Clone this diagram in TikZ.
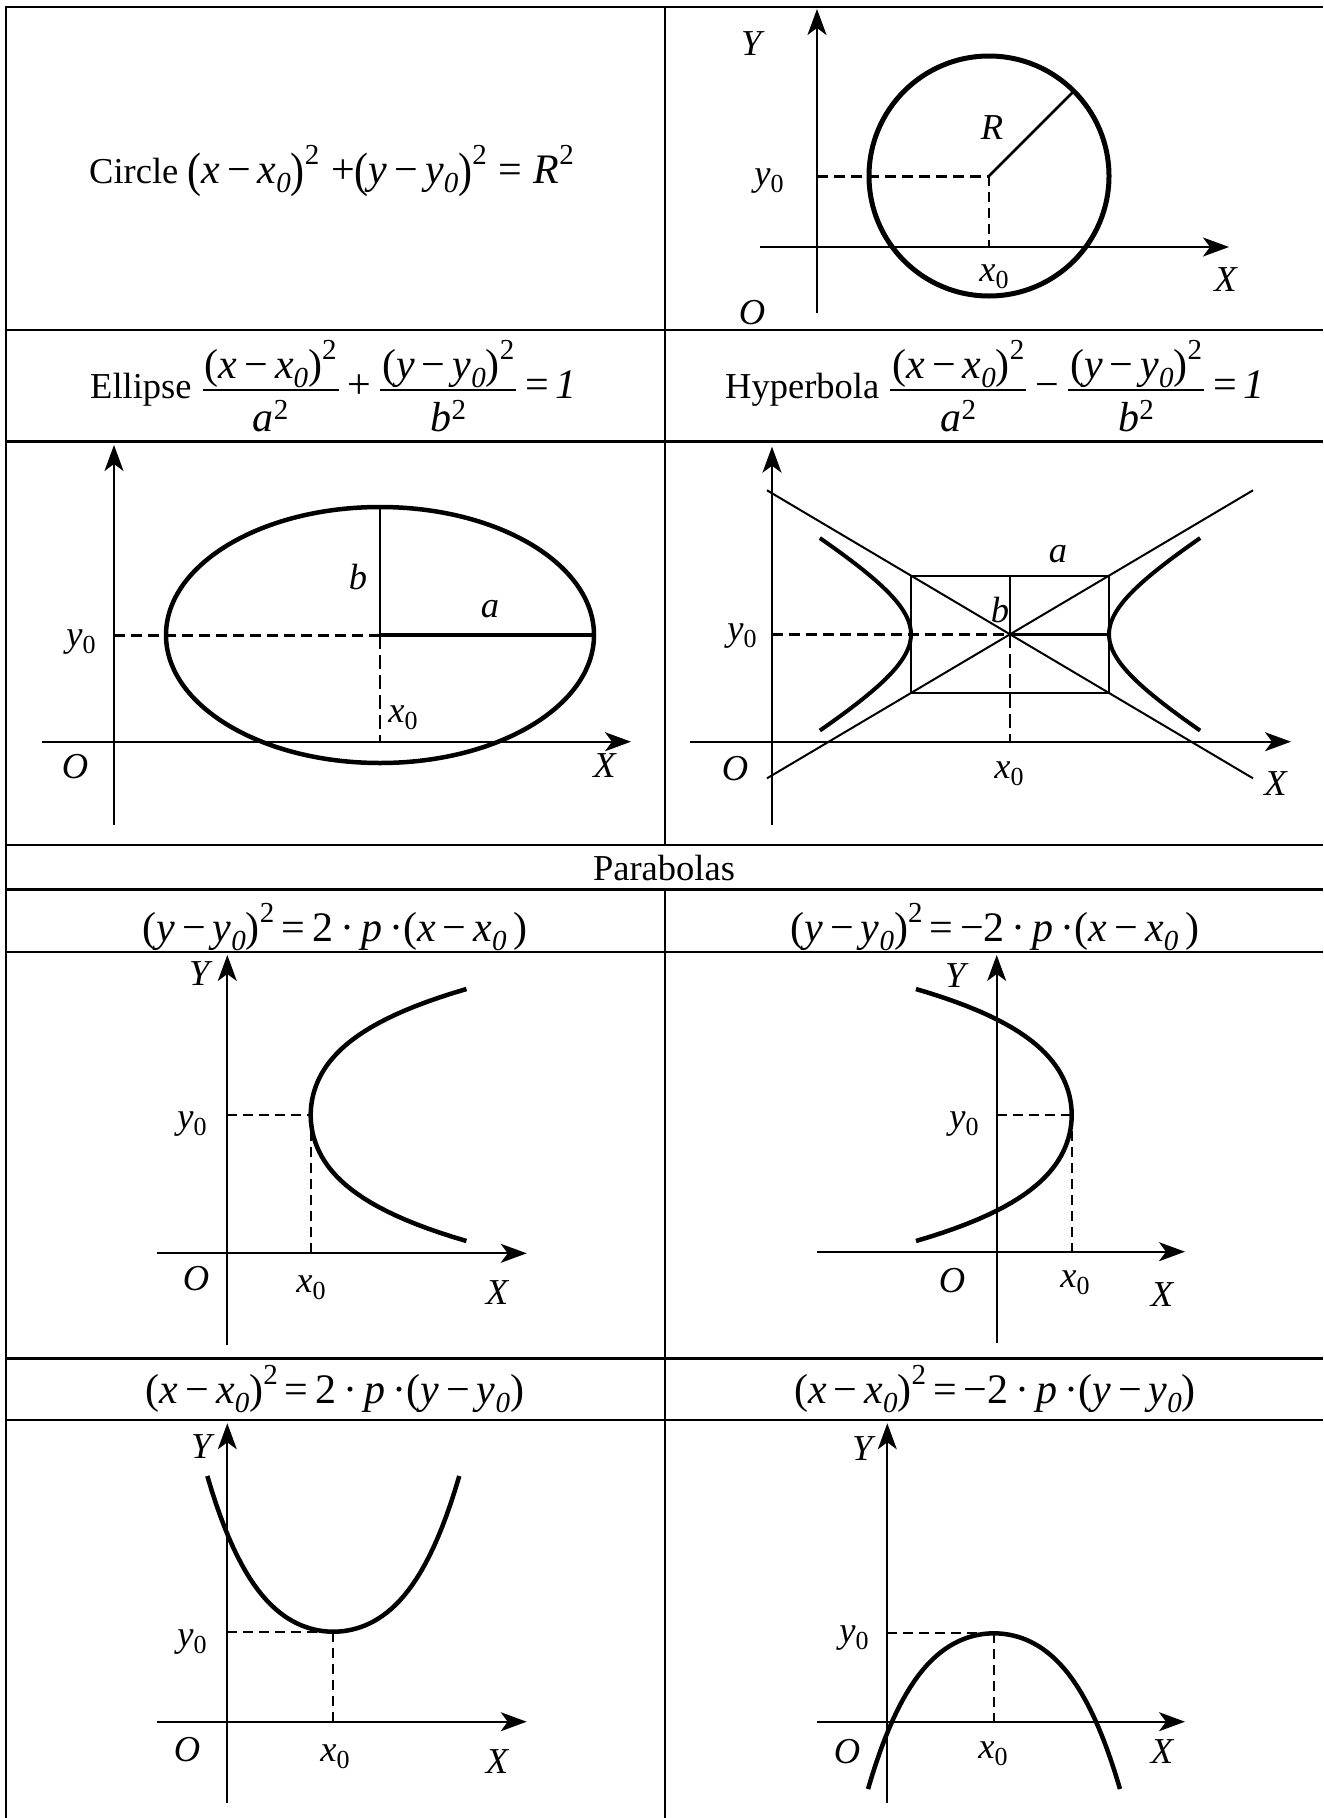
\documentclass[tikz,border=0pt]{standalone}
\usepackage{fontspec}
\setmainfont{Liberation Serif}
\usepackage{graphicx}
\usetikzlibrary{arrows.meta}

\newcommand{\vi}[1]{\textit{#1}}
\newcommand{\fmf}{\fontsize{42}{50}\selectfont}
\newcommand{\txf}{\fontsize{36.5}{44}\selectfont}
\newcommand{\subI}[1]{\raisebox{-0.22em}{\fontsize{29}{29}\selectfont\textit{#1}}}
\newcommand{\subU}[1]{\raisebox{-0.2em}{\fontsize{26}{26}\selectfont #1}}
\newcommand{\supU}[1]{\raisebox{0.45em}{\fontsize{29}{29}\selectfont #1}}
\newcommand{\supD}[1]{\raisebox{0.28em}{\fontsize{29}{29}\selectfont #1}}
\newcommand{\BL}{\raisebox{-3pt}{\scalebox{1}[1.15]{(}}}
\newcommand{\BR}{\raisebox{-3pt}{\scalebox{1}[1.15]{)}}}
\newcommand{\Mn}{\,−\,}
\newdimen\fracw
\newsavebox\fnumbox
\newsavebox\fdenbox
\newcommand{\TFrac}[2]{%
 \sbox\fnumbox{#1}\sbox\fdenbox{#2}%
 \fracw=\wd\fnumbox
 \ifdim\wd\fdenbox>\fracw \fracw=\wd\fdenbox\fi
 \advance\fracw by 4pt
 \kern2pt
 \rlap{\raisebox{20pt}{\makebox[\fracw]{\usebox\fnumbox}}}%
 \rlap{\raisebox{-33.4pt}{\makebox[\fracw]{\usebox\fdenbox}}}%
 \rule[7.6pt]{\fracw}{1.6pt}%
 \kern2pt}

\tikzset{
 tbl/.style={line width=2.5pt},
 axis/.style={line width=2pt,-{Stealth[length=26pt,width=19pt,inset=7pt]}},
 curve/.style={line width=4.5pt},
 hcurve/.style={line width=4pt},
 fine/.style={line width=2pt},
 bold/.style={line width=3.5pt},
 dsh/.style={line width=2pt,dash pattern=on 10pt off 6pt},
 dshthick/.style={line width=3pt,dash pattern=on 11pt off 6pt},
 dshlong/.style={line width=2pt,dash pattern=on 14pt off 6pt},
 lbl/.style={inner sep=0pt,font=\txf},
 hdr/.style={inner sep=0pt,font=\fmf},
}

\begin{document}
\begin{tikzpicture}[x=1pt,y=-1pt]
\useasboundingbox (0,0) rectangle (1323,1818);
\fill[white] (0,0) rectangle (1323,1818);

% ---------- table ----------
\draw[tbl] (1323,7) -- (6,7) -- (6,1818);
\foreach \yy in {330,441.5,845,889.3,952,1358.3,1420}
  \draw[tbl] (6,\yy) -- (1323,\yy);
\draw[tbl] (665,7) -- (665,845);
\draw[tbl] (665,889.3) -- (665,1818);

% ---------- headers ----------
\node[hdr,anchor=base west] (hcircle) at (89,183)
 {{\txf Circle }\BL\vi{x}\Mn\vi{x}\subI{0}\BR\supU{2}\;+\BL\vi{y}\Mn\vi{y}\subI{0}\BR\supU{2}\;=\;\vi{R}\supU{2}};
\node[hdr,anchor=base west] (hellipse) at (90,398.3)
 {{\txf Ellipse }\TFrac{(\vi{x}\Mn\vi{x}\subI{0})\supU{2}}{\vi{a}\supD{2}}\,+\,\TFrac{(\vi{y}\Mn\vi{y}\subI{0})\supU{2}}{\vi{b}\supD{2}}\,=\,\vi{1}};
\node[hdr,anchor=base west] (hhyper) at (725,398.3)
 {{\txf Hyperbola }\TFrac{(\vi{x}\Mn\vi{x}\subI{0})\supU{2}}{\vi{a}\supD{2}}\,−\,\TFrac{(\vi{y}\Mn\vi{y}\subI{0})\supU{2}}{\vi{b}\supD{2}}\,=\,\vi{1}};
\node[lbl,anchor=base] (hpar) at (664,880) {Parabolas};
\node[hdr,anchor=base] (hp1) at (335,941.7)
 {(\vi{y}\Mn\vi{y}\subI{0})\supU{2}\,=\,2\,·\,\vi{p}\,·(\vi{x}\Mn\vi{x}\subI{0}\,)};
\node[hdr,anchor=base] (hp2) at (995,941.7)
 {(\vi{y}\Mn\vi{y}\subI{0})\supU{2}\,=\,−2\,·\,\vi{p}\,·(\vi{x}\Mn\vi{x}\subI{0}\,)};
\node[hdr,anchor=base] (hp3) at (335,1403.3)
 {(\vi{x}\Mn\vi{x}\subI{0})\supU{2}\,=\,2\,·\,\vi{p}\,·(\vi{y}\Mn\vi{y}\subI{0})};
\node[hdr,anchor=base] (hp4) at (995,1403.3)
 {(\vi{x}\Mn\vi{x}\subI{0})\supU{2}\,=\,−2\,·\,\vi{p}\,·(\vi{y}\Mn\vi{y}\subI{0})};

% ---------- circle ----------
\coordinate (cC) at (989,176);
\draw[axis] (817,313) -- (817,9);
\draw[axis] (760,247) -- (1229,247);
\draw[line width=5pt] (cC) circle[radius=120pt];
\draw[dshthick] (817,176) -- (cC);
\draw[dsh] (cC) -- (989,247);
\draw[line width=2.5pt] (cC) -- ++(84.85,-84.85);
\node[lbl] (cY) at (753,44) {\vi{Y}};
\node[lbl] (cy0) at (769,181) {\vi{y}\subU{0}};
\node[lbl] (cR) at (992,128) {\vi{R}};
\node[lbl] (cx0) at (994,277) {\vi{x}\subU{0}};
\node[lbl] (cX) at (1226,280) {\vi{X}};
\node[lbl] (cO) at (752,313) {\vi{O}};

% ---------- ellipse ----------
\coordinate (eC) at (380,635);
\draw[axis] (114,825) -- (114,445);
\draw[axis] (42,741.7) -- (631,741.7);
\draw[curve] (eC) ellipse[x radius=214pt,y radius=128pt];
\draw[fine] (eC) -- (380,507);
\draw[bold] (eC) -- (594,635);
\draw[dshthick] (114,635) -- (eC);
\draw[dshlong] (eC) -- (380,741.7);
\node[lbl] (eb) at (358,577) {\vi{b}};
\node[lbl] (ea) at (490,609) {\vi{a}};
\node[lbl] (ey0) at (81,642) {\vi{y}\subU{0}};
\node[lbl] (ex0) at (403,718) {\vi{x}\subU{0}};
\node[lbl] (eO) at (75,767) {\vi{O}};
\node[lbl] (eX) at (605,766) {\vi{X}};

% ---------- hyperbola ----------
\coordinate (hC) at (1010,634.3);
\draw[axis] (772,825) -- (772,446.7);
\draw[axis] (690,741.7) -- (1291,741.7);
\draw[fine] (911,575.6) rectangle (1109,693);
\draw[fine] (767,490.3) -- (1253,778.3);
\draw[fine] (767,778.3) -- (1253,490.3);
\draw[hcurve] plot[domain=-1.27:1.27,samples=50] ({1010+99*cosh(\x)},{634.3+58.7*sinh(\x)});
\draw[hcurve] plot[domain=-1.27:1.27,samples=50] ({1010-99*cosh(\x)},{634.3+58.7*sinh(\x)});
\draw[bold] (hC) -- (1109,634.3);
\draw[line width=1.6pt] (hC) -- (1010,575.6);
\draw[dshthick] (772,634.3) -- (hC);
\draw[dshlong] (hC) -- (1010,741.7);
\node[lbl] (ha) at (1058,554) {\vi{a}};
\node[lbl] (hb) at (1000,610) {\vi{b}};
\node[lbl] (hy0) at (742,636) {\vi{y}\subU{0}};
\node[lbl] (hx0) at (1009,774) {\vi{x}\subU{0}};
\node[lbl] (hO) at (735,769) {\vi{O}};
\node[lbl] (hX) at (1276,784) {\vi{X}};

% ---------- parabola 1 (opens right) ----------
\draw[axis] (227.3,1345) -- (227.3,955);
\draw[axis] (157.3,1253.3) -- (526.7,1253.3);
\draw[curve,shift={(310.7,1115)}] plot[domain=-1.26:1.26,samples=60]
 ({60*\x*\x+24*\x*\x*\x*\x},{100*\x});
\draw[dsh] (227.3,1115) -- (310.7,1115);
\draw[dsh] (310.7,1115) -- (310.7,1253.3);
\node[lbl] (p1Y) at (201,974) {\vi{Y}};
\node[lbl] (p1y0) at (192,1124) {\vi{y}\subU{0}};
\node[lbl] (p1O) at (196,1279) {\vi{O}};
\node[lbl] (p1x0) at (311,1288) {\vi{x}\subU{0}};
\node[lbl] (p1X) at (497.5,1293) {\vi{X}};

% ---------- parabola 2 (opens left) ----------
\draw[axis] (996.7,1343) -- (996.7,955);
\draw[axis] (816.7,1251.7) -- (1185,1251.7);
\draw[curve,shift={(1071.7,1115)}] plot[domain=-1.26:1.26,samples=60]
 ({-60*\x*\x-24*\x*\x*\x*\x},{100*\x});
\draw[dsh] (996.7,1115) -- (1071.7,1115);
\draw[dsh] (1071.7,1115) -- (1071.7,1251.7);
\node[lbl] (p2Y) at (957,976) {\vi{Y}};
\node[lbl] (p2y0) at (964,1124) {\vi{y}\subU{0}};
\node[lbl] (p2O) at (952,1281) {\vi{O}};
\node[lbl] (p2x0) at (1075,1283) {\vi{x}\subU{0}};
\node[lbl] (p2X) at (1162.5,1295) {\vi{X}};

% ---------- parabola 3 (opens up) ----------
\draw[axis] (227.3,1803) -- (227.3,1423.3);
\draw[axis] (157.3,1721.7) -- (526.7,1721.7);
\draw[curve,shift={(333.3,1631.7)}] plot[domain=-1.26:1.26,samples=60]
 ({100*\x},{-60*\x*\x-24*\x*\x*\x*\x});
\draw[dsh] (227.3,1631.7) -- (333.3,1631.7);
\draw[dsh] (333.3,1631.7) -- (333.3,1721.7);
\node[lbl] (p3Y) at (203,1447) {\vi{Y}};
\node[lbl] (p3y0) at (192,1642) {\vi{y}\subU{0}};
\node[lbl] (p3O) at (187,1750) {\vi{O}};
\node[lbl] (p3x0) at (335,1757) {\vi{x}\subU{0}};
\node[lbl] (p3X) at (497.5,1762) {\vi{X}};

% ---------- parabola 4 (opens down) ----------
\draw[axis] (887.3,1803) -- (887.3,1423.3);
\draw[axis] (816.7,1721.7) -- (1185,1721.7);
\draw[curve,shift={(994,1633.3)}] plot[domain=-1.26:1.26,samples=60]
 ({100*\x},{60*\x*\x+24*\x*\x*\x*\x});
\draw[dsh] (887.3,1633.3) -- (994,1633.3);
\draw[dsh] (994,1633.3) -- (994,1721.7);
\node[lbl] (p4Y) at (864,1449) {\vi{Y}};
\node[lbl] (p4y0) at (854,1638) {\vi{y}\subU{0}};
\node[lbl] (p4O) at (847,1752) {\vi{O}};
\node[lbl] (p4x0) at (993,1754) {\vi{x}\subU{0}};
\node[lbl] (p4X) at (1162.5,1752) {\vi{X}};
\end{tikzpicture}
\end{document}
